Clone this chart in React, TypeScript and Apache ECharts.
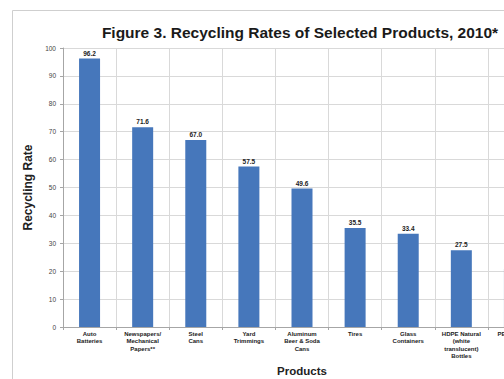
import React, { useEffect, useRef } from "react";
import * as echarts from "echarts";

const categories = [
  "Auto\nBatteries",
  "Newspapers/\nMechanical\nPapers**",
  "Steel\nCans",
  "Yard\nTrimmings",
  "Aluminum\nBeer & Soda\nCans",
  "Tires",
  "Glass\nContainers",
  "HDPE Natural\n(white\ntranslucent)\nBottles",
  "PET Bottles\n& Jars",
];
const rates = [96.2, 71.6, 67.0, 57.5, 49.6, 35.5, 33.4, 27.5, 21.0];
const yTicks = { min: 0, max: 100, interval: 10 };

export default function App() {
  const ref = useRef<HTMLDivElement>(null);
  useEffect(() => {
    if (!ref.current) return;
    const chart = echarts.init(ref.current, undefined, { renderer: "svg" });
    chart.setOption({
      animation: false,
      backgroundColor: "#ffffff",
      textStyle: { fontFamily: "Liberation Sans, Arial, sans-serif" },
      title: {
        text: "Figure 3. Recycling Rates of Selected Products, 2010*",
        left: "center",
        top: 19,
        textStyle: { fontSize: 15.5, fontWeight: "bold", color: "#1a1a1a" },
      },
      graphic: [
        {
          type: "rect",
          shape: { x: 12.5, y: 10.5, width: 640, height: 440 },
          style: { fill: "none", stroke: "#cfcfcf", lineWidth: 1 },
          silent: true,
        },
      ],
      grid: { left: 63, top: 48, width: 478, height: 279 },
      xAxis: {
        type: "category",
        data: categories,
        name: "Products",
        nameLocation: "middle",
        nameGap: 32,
        nameTextStyle: { fontSize: 11.5, fontWeight: "bold", color: "#222" },
        axisLine: { show: true, lineStyle: { color: "#a6a6a6" } },
        axisTick: { show: true, length: 3, lineStyle: { color: "#a6a6a6" } },
        axisLabel: {
          interval: 0,
          fontSize: 6,
          fontWeight: "bold",
          color: "#222",
          lineHeight: 7.5,
          margin: 3,
        },
        splitLine: { show: true, interval: 0, lineStyle: { color: "#d9d9d9" } },
      },
      yAxis: {
        type: "value",
        min: yTicks.min,
        max: yTicks.max,
        interval: yTicks.interval,
        name: "Recycling Rate",
        nameLocation: "middle",
        nameGap: 24,
        nameTextStyle: { fontSize: 12, fontWeight: "bold", color: "#222" },
        axisLine: { show: true, lineStyle: { color: "#a6a6a6" } },
        axisTick: { show: true, length: 3, lineStyle: { color: "#a6a6a6" } },
        axisLabel: { fontSize: 6.5, color: "#444", margin: 7 },
        splitLine: { show: true, lineStyle: { color: "#d9d9d9" } },
      },
      series: [
        {
          type: "bar",
          data: rates,
          barWidth: 21,
          itemStyle: { color: "#4677bb" },
          label: {
            show: true,
            position: "top",
            distance: 2,
            fontSize: 6.5,
            fontWeight: "bold",
            color: "#222",
            formatter: (p: any) => Number(p.value).toFixed(1),
          },
        },
      ],
    });
    return () => chart.dispose();
  }, []);
  return (
    <div
      style={{
        position: "fixed",
        left: 0,
        top: 0,
        width: 504,
        height: 379,
        overflow: "hidden",
        background: "#fff",
      }}
    >
      <div ref={ref} style={{ position: "absolute", left: 0, top: 0, width: 600, height: 400 }} />
    </div>
  );
}
